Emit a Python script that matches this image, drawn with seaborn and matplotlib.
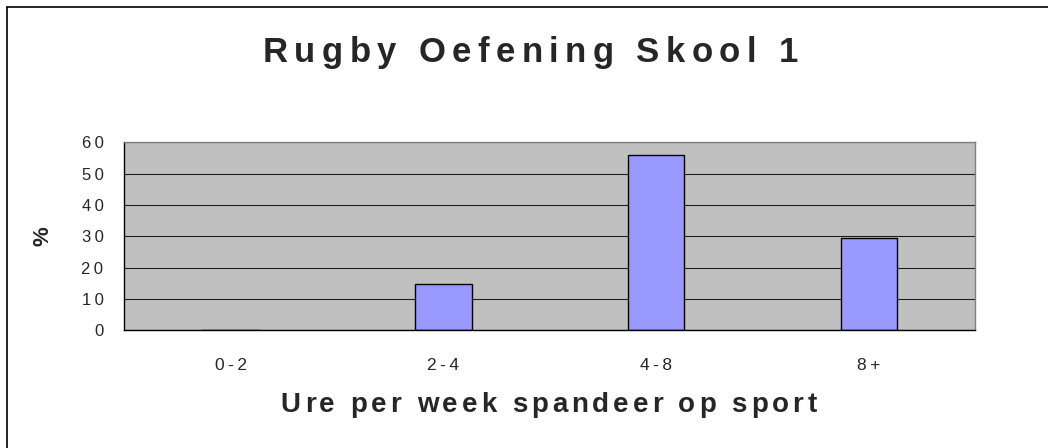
import matplotlib
matplotlib.use("Agg")
import matplotlib.pyplot as plt
import seaborn as sns
from matplotlib import font_manager
from matplotlib.ft2font import FT2Font

categories = ["0-2", "2-4", "4-8", "8+"]
percent = [0, 14.7, 55.9, 29.4]
y_ticks = [0, 10, 20, 30, 40, 50, 60]

title = "Rugby Oefening Skool 1"
x_title = "Ure per week spandeer op sport"
y_title = "%"

sns.set_style("white")
plt.rcParams['font.family'] = ['Liberation Sans', 'DejaVu Sans']

W, H, DPI = 1048, 448, 100
THIN = "\u2009"


def spaced(s):
    return THIN.join(s)


def tracked_text(fig, s, cx, baseline, size, tracking, weight="bold"):
    # draw text char by char with extra letter spacing (Excel look)
    prop = font_manager.FontProperties(family="Liberation Sans", weight=weight)
    font = FT2Font(font_manager.findfont(prop))
    font.set_size(size, 72)
    adv = [font.load_char(ord(c)).linearHoriAdvance / 65536 for c in s]
    total = sum(adv) + tracking * (len(s) - 1)
    x = cx * W * 72 / DPI - total / 2
    for c, a in zip(s, adv):
        if c != " ":
            fig.text((x + a / 2) * DPI / 72 / W, baseline, c, ha="center",
                     va="baseline", fontsize=size, fontweight=weight,
                     family="Liberation Sans")
        x += a + tracking


fig = plt.figure(figsize=(W / DPI, H / DPI), dpi=DPI)
ax = fig.add_axes([0.1186, 0.2627, 0.812, 0.4196])

sns.barplot(x=categories, y=percent, color="#9999FF", saturation=1,
            edgecolor="black", linewidth=1.0, width=0.265, ax=ax)

ax.set_facecolor("#C0C0C0")
ax.set_xlim(-0.5, len(categories) - 0.5)
ax.set_ylim(0, 60)
ax.set_yticks(y_ticks)
ax.set_yticklabels([spaced(str(v)) for v in y_ticks], fontsize=12)
ax.yaxis.grid(True, color="#202020", linewidth=0.8)
ax.set_axisbelow(True)

# tick marks between categories, labels at the centres
ax.set_xticks([i - 0.5 for i in range(len(categories) + 1)])
ax.set_xticklabels([])
ax.set_xticks(range(len(categories)), minor=True)
ax.set_xticklabels([spaced(c) for c in categories], minor=True, fontsize=12.5)
ax.tick_params(axis="x", which="major", direction="out", length=6, width=0.8, color="black")
ax.tick_params(axis="x", which="minor", length=0, pad=20)
ax.tick_params(axis="y", direction="out", length=5, width=0.8, color="black", pad=10)

for side in ["top", "right"]:
    ax.spines[side].set_color("#808080")
    ax.spines[side].set_linewidth(1)
for side in ["left", "bottom"]:
    ax.spines[side].set_color("black")
    ax.spines[side].set_linewidth(1)

ax.set_xlabel("")
ax.set_ylabel("")

tracked_text(fig, title, 0.506, 1 - 62 / H, 25, 4.6)
tracked_text(fig, x_title, 0.5235, 1 - 412 / H, 20, 2.8)
fig.text(0.041, 0.472, y_title, ha="center", va="center", rotation=90,
         fontsize=16, fontweight="bold")

# chart frame (only top and left visible in the reference)
fig.add_artist(plt.Line2D([7 / W, 1], [1 - 7 / H, 1 - 7 / H],
                          transform=fig.transFigure, color="black", linewidth=1.2))
fig.add_artist(plt.Line2D([7 / W, 7 / W], [0, 1 - 7 / H],
                          transform=fig.transFigure, color="black", linewidth=1.2))

fig.savefig("out.png", dpi=DPI, facecolor="white")
